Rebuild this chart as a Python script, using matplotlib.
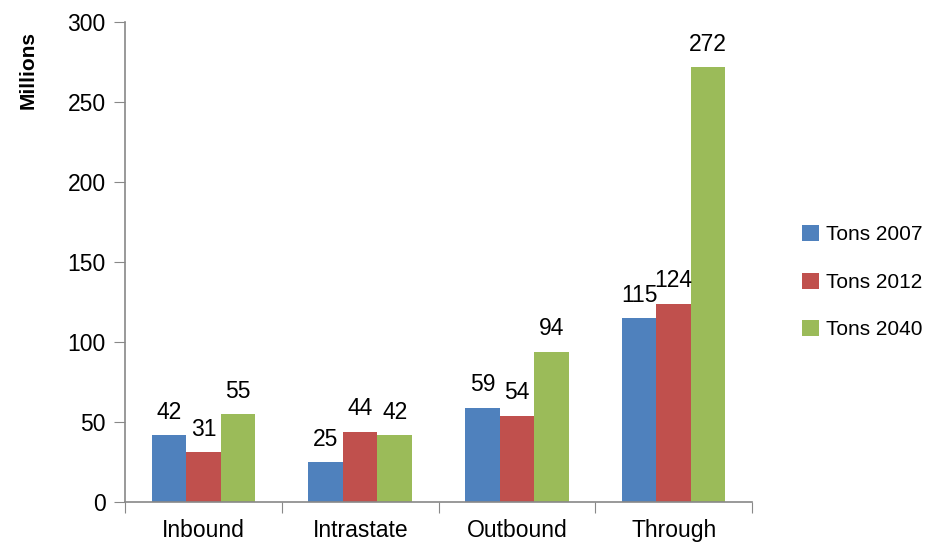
import matplotlib.pyplot as plt
import numpy as np
from matplotlib import font_manager

categories = ['Inbound', 'Intrastate', 'Outbound', 'Through']
series_names = ['Tons 2007', 'Tons 2012', 'Tons 2040']
tons_2007 = [42, 25, 59, 115]
tons_2012 = [31, 44, 54, 124]
tons_2040 = [55, 42, 94, 272]
colors = ['#4F81BD', '#C0504D', '#9BBB59']

names = {f.name for f in font_manager.fontManager.ttflist}
fam = 'Liberation Sans Narrow' if 'Liberation Sans Narrow' in names else 'Liberation Sans'
plt.rcParams['font.family'] = [fam, 'DejaVu Sans']
fs = 16.5

fig = plt.figure(figsize=(9.29, 5.45), dpi=100)
ax = fig.add_axes([0.1346, 0.0789, 0.675, 0.8807])

x = np.arange(len(categories))
w = 0.22
for i, (vals, name) in enumerate(zip([tons_2007, tons_2012, tons_2040], series_names)):
    pos = x + (i - 1) * w
    bars = ax.bar(pos, vals, w, color=colors[i], label=name)
    for b, v in zip(bars, vals):
        ax.text(b.get_x() + b.get_width() / 2, v + 7, str(v), ha='center', va='bottom', fontsize=fs)

ax.set_xlim(-0.5, 3.5)
ax.set_ylim(0, 300)
ax.set_yticks(range(0, 301, 50))
ax.set_xticks(np.arange(-0.5, 3.6, 1))
ax.set_xticklabels([])
ax.set_xticks(x, minor=True)
ax.set_xticklabels(categories, minor=True, fontsize=fs)
ax.tick_params(axis='x', which='minor', length=0, pad=12)
ax.tick_params(axis='x', which='major', length=8, direction='out', color='#888888')
ax.tick_params(axis='y', length=8, direction='out', color='#888888', labelsize=fs, pad=6)
for s in ['top', 'right']:
    ax.spines[s].set_visible(False)
for s in ['left', 'bottom']:
    ax.spines[s].set_color('#888888')
    ax.spines[s].set_linewidth(1.2)

ax.set_ylabel('Millions', fontsize=15, fontweight='bold')
ax.yaxis.set_label_coords(-0.14, 0.9)

ax.legend(loc='center left', bbox_to_anchor=(1.08, 0.458), frameon=False, fontsize=15,
          handlelength=0.8, handleheight=0.8, labelspacing=1.35, handletextpad=0.35,
          borderpad=0, borderaxespad=0)

fig.savefig('out.png', dpi=100)
